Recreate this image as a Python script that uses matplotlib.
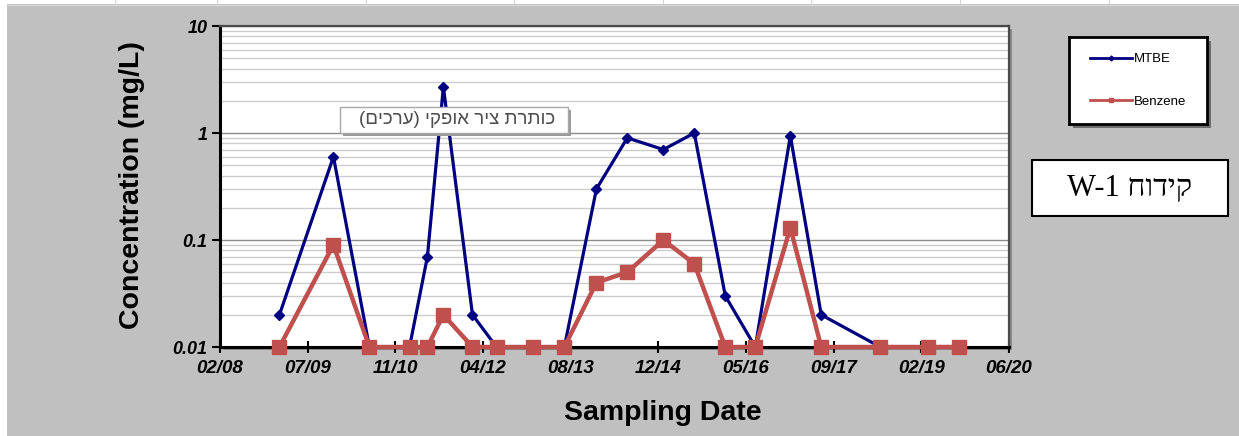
import datetime as dt
import matplotlib
matplotlib.use("Agg")
import matplotlib.pyplot as plt
import matplotlib.dates as mdates
from matplotlib.patches import Rectangle
from matplotlib.lines import Line2D
from matplotlib.ticker import FixedLocator, FuncFormatter, LogLocator, NullFormatter

# sampling dates and concentrations (mg/L), values below detection plotted at 0.01
sample_dates = ['2009-01-28', '2009-12-02', '2010-06-25', '2011-02-09', '2011-05-22',
                '2011-08-21', '2012-02-03', '2012-06-19', '2013-01-16', '2013-07-11',
                '2014-01-10', '2014-07-05', '2015-01-27', '2015-07-22', '2016-01-15',
                '2016-07-04', '2017-01-20', '2017-07-15', '2018-06-17', '2019-03-17',
                '2019-09-10']
mtbe = [0.02, 0.6, 0.01, 0.01, 0.07, 2.7, 0.02, 0.01, 0.01, 0.01, 0.3,
        0.9, 0.7, 1.0, 0.03, 0.01, 0.94, 0.02, 0.01, 0.01, 0.01]
benzene = [0.01, 0.09, 0.01, 0.01, 0.01, 0.02, 0.01, 0.01, 0.01, 0.01, 0.04,
           0.05, 0.1, 0.06, 0.01, 0.01, 0.13, 0.01, 0.01, 0.01, 0.01]

axis_start = dt.date(2008, 2, 24)
axis_step_days = 500
n_steps = 9
y_ticks = [0.01, 0.1, 1, 10]
y_labels = ['0.01', '0.1', '1', '10']

W, H = 1239, 436
BG = '#c0c0c0'

def fx(px):
    return px / W

def fy(py):
    return 1 - py / H

dates = [dt.datetime.strptime(d, '%Y-%m-%d') for d in sample_dates]

fig = plt.figure(figsize=(W / 100, H / 100), dpi=100)
fig.patch.set_facecolor(BG)

# spreadsheet strip on top and left
fig.patches.append(Rectangle((0, fy(4.5)), 1, 4.5 / H, transform=fig.transFigure,
                             facecolor='white', edgecolor='none', zorder=-5))
fig.patches.append(Rectangle((0, 0), fx(7), 1, transform=fig.transFigure,
                             facecolor='white', edgecolor='none', zorder=-5))
for gx in [115, 217, 366, 514, 663, 811, 960, 1109]:
    fig.lines.append(Line2D([fx(gx), fx(gx)], [fy(4.5), 1], transform=fig.transFigure,
                            color='#d4d4d4', lw=0.8))
fig.lines.append(Line2D([fx(7), 1], [fy(5), fy(5)], transform=fig.transFigure,
                        color='#d8d8d8', lw=1))

# plot area geometry in pixels
L, R, T, B = 220, 1009, 26, 347
fig.patches.append(Rectangle((fx(L + 3), fy(B + 3)), (R - L) / W, (B - T) / H,
                             transform=fig.transFigure, facecolor='#8a8a8a',
                             edgecolor='none', zorder=-1))
ax = fig.add_axes([fx(L), fy(B), (R - L) / W, (B - T) / H])
ax.set_facecolor('white')

ax.plot(dates, mtbe, color='#000080', lw=2.3, marker='D', markersize=5,
        label='MTBE', clip_on=False, zorder=3)
ax.plot(dates, benzene, color='#c0504d', lw=3.2, marker='s', markersize=9.5,
        label='Benzene', clip_on=False, zorder=4)

ax.set_yscale('log')
ax.set_ylim(0.01, 10)
ax.yaxis.set_major_locator(FixedLocator(y_ticks))
ax.yaxis.set_major_formatter(FuncFormatter(lambda v, p: y_labels[y_ticks.index(v)] if v in y_ticks else ''))
ax.yaxis.set_minor_locator(LogLocator(base=10, subs=range(2, 10)))
ax.yaxis.set_minor_formatter(NullFormatter())
ax.grid(True, which='major', axis='y', color='#8c8c8c', lw=1.0, zorder=0)
ax.grid(True, which='minor', axis='y', color='#cccccc', lw=1.0, zorder=0)
ax.set_axisbelow(True)

x0 = mdates.date2num(dt.datetime.combine(axis_start, dt.time()))
xt = [x0 + axis_step_days * k for k in range(n_steps + 1)]
ax.set_xlim(xt[0], xt[-1])
ax.xaxis.set_major_locator(FixedLocator(xt))
ax.xaxis.set_major_formatter(mdates.DateFormatter('%m/%y'))

tick_font = dict(family='Liberation Sans', weight='bold', style='italic')
for lab in ax.get_xticklabels():
    lab.set(**tick_font, fontsize=13.5)
for lab in ax.get_yticklabels():
    lab.set(**tick_font, fontsize=13)
ax.tick_params(axis='x', direction='inout', length=9, width=1.5, pad=5, color='black')
ax.tick_params(axis='y', which='major', direction='out', length=6, width=1.5, pad=3)
ax.tick_params(axis='y', which='minor', length=0)

for side in ['left', 'bottom']:
    ax.spines[side].set_linewidth(2.2)
    ax.spines[side].set_color('black')
for side in ['top', 'right']:
    ax.spines[side].set_linewidth(1.6)
    ax.spines[side].set_color('#4a4a4a')

fig.text(fx(132), fy(185), 'Concentration (mg/L)', rotation=90, ha='center', va='center',
         family='Liberation Sans', weight='bold', fontsize=20.5)
fig.text(fx(663), fy(413), 'Sampling Date', ha='center', va='center',
         family='Liberation Sans', weight='bold', fontsize=20.5)

# legend box
lx0, lx1, ly0, ly1 = 1069, 1207, 37, 124
fig.patches.append(Rectangle((fx(lx0 + 4), fy(ly1 + 4)), (lx1 - lx0) / W, (ly1 - ly0) / H,
                             transform=fig.transFigure, facecolor='#6e6e6e',
                             edgecolor='none', zorder=-1))
lax = fig.add_axes([fx(lx0), fy(ly1), (lx1 - lx0) / W, (ly1 - ly0) / H])
lax.set_xticks([])
lax.set_yticks([])
for s in lax.spines.values():
    s.set_linewidth(2)
    s.set_color('black')
handles = [Line2D([], [], color='#000080', lw=2, marker='D', markersize=2.5),
           Line2D([], [], color='#c0504d', lw=2, marker='s', markersize=3)]
leg = lax.legend(handles, ['MTBE', 'Benzene'], loc='center', frameon=False,
                 handlelength=3.2, handletextpad=0.1, labelspacing=2.3,
                 prop=dict(family=['Liberation Sans Narrow', 'Liberation Sans'], size=9.5))

# well name box
fig.patches.append(Rectangle((fx(1032), fy(216)), (1228 - 1032) / W, (216 - 160) / H,
                             transform=fig.transFigure, facecolor='white',
                             edgecolor='black', lw=1.5, zorder=-1))
fig.text(fx(1130), fy(188), 'W-1 ' + 'קידוח'[::-1], ha='center', va='center',
         family=['Liberation Serif', 'DejaVu Serif', 'DejaVu Sans'], fontsize=22)

# leftover axis-title placeholder box
bx0, bx1, by0, by1 = 340, 568, 107, 133
fig.patches.append(Rectangle((fx(bx0 + 3), fy(by1 + 3)), (bx1 - bx0) / W, (by1 - by0) / H,
                             transform=fig.transFigure, facecolor='#9a9a9a',
                             edgecolor='none', zorder=5))
fig.patches.append(Rectangle((fx(bx0), fy(by1)), (bx1 - bx0) / W, (by1 - by0) / H,
                             transform=fig.transFigure, facecolor='white',
                             edgecolor='#a8a8a8', lw=1, zorder=6))
callout = 'כותרת ציר אופקי (ערכים)'
visual = callout[::-1].translate(str.maketrans('()', ')('))
fig.text(fx((bx0 + bx1) / 2 + 3), fy((by0 + by1) / 2), visual, ha='center', va='center',
         family=['Liberation Sans', 'DejaVu Sans'], fontsize=13.5, color='#4d4d4d', zorder=7)

fig.savefig('out.png', dpi=100, facecolor=BG)
